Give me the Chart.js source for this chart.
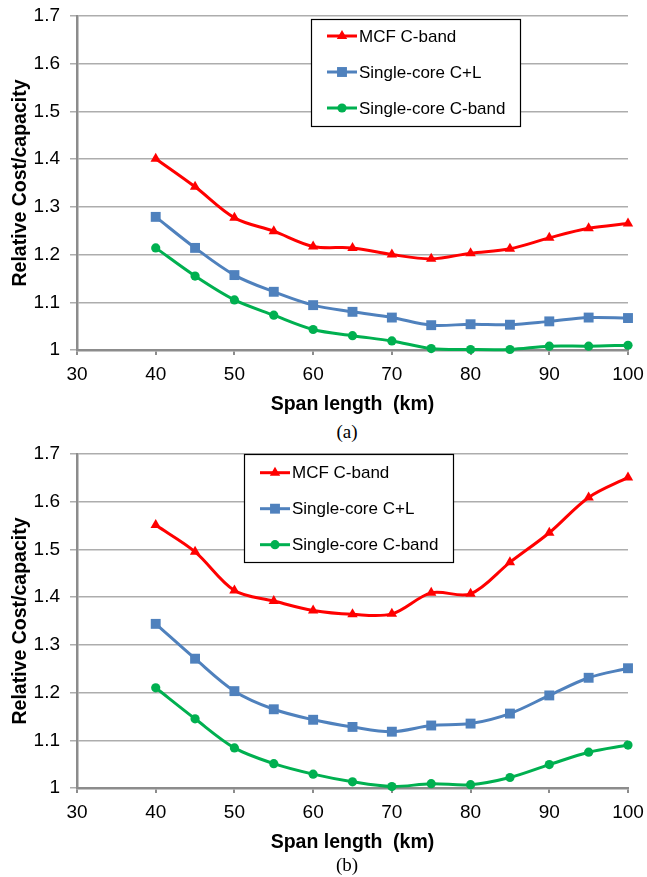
<!DOCTYPE html>
<html>
<head>
<meta charset="utf-8">
<script src="https://cdn.jsdelivr.net/npm/chart.js@4.4.1/dist/chart.umd.min.js"></script>
<style>
  body { margin: 0; background: #fff; }
  #wrap { position: relative; width: 647px; height: 877px; overflow: hidden; }
  canvas { position: absolute; left: 0; }
  .cap { position: absolute; width: 60px; left: 317px; text-align: center;
         font-family: "Liberation Serif", "DejaVu Serif", serif; font-size: 19px; color: #000; }
</style>
</head>
<body>
<div id="wrap">
  <canvas id="chart-a" width="647" height="420" style="top:0px"></canvas>
  <div class="cap" style="top:421px">(a)</div>
  <canvas id="chart-b" width="647" height="420" style="top:438px"></canvas>
  <div class="cap" style="top:854px">(b)</div>
</div>
<script>
// Shared data
const spans = [40, 45, 50, 55, 60, 65, 70, 75, 80, 85, 90, 95, 100];
const seriesNames = ['MCF C-band', 'Single-core C+L', 'Single-core C-band'];

// (a)
const mcf_a = [1.401, 1.342, 1.277, 1.249, 1.217, 1.214, 1.200, 1.191, 1.203, 1.212, 1.235, 1.255, 1.265];
const cl_a = [1.279, 1.214, 1.157, 1.122, 1.094, 1.080, 1.068, 1.052, 1.054, 1.053, 1.060, 1.068, 1.067];
const c_a = [1.214, 1.155, 1.105, 1.073, 1.043, 1.030, 1.019, 1.003, 1.001, 1.001, 1.008, 1.008, 1.010];

// (b)
const mcf_b = [1.551, 1.495, 1.414, 1.392, 1.372, 1.364, 1.365, 1.409, 1.407, 1.473, 1.535, 1.609, 1.651];
const cl_b = [1.344, 1.271, 1.203, 1.165, 1.143, 1.128, 1.118, 1.131, 1.135, 1.156, 1.194, 1.231, 1.251];
const c_b = [1.210, 1.145, 1.084, 1.051, 1.029, 1.013, 1.003, 1.009, 1.007, 1.022, 1.049, 1.075, 1.090];

const xTicks = [30, 40, 50, 60, 70, 80, 90, 100];
const yTicks = [1, 1.1, 1.2, 1.3, 1.4, 1.5, 1.6, 1.7];

const styles = [
  { color: '#ff0000', pointStyle: 'triangle', radius: 6 },
  { color: '#4f81bd', pointStyle: 'rect', radius: 7 },
  { color: '#00b050', pointStyle: 'circle', radius: 4.6 }
];

function makeSets(values) {
  return values.map((vals, i) => ({
    label: seriesNames[i],
    data: spans.map((s, j) => ({ x: s, y: vals[j] })),
    borderColor: styles[i].color,
    backgroundColor: styles[i].color,
    borderWidth: 3,
    pointStyle: styles[i].pointStyle,
    pointRadius: styles[i].radius,
    pointHoverRadius: styles[i].radius,
    pointBorderWidth: 0,
    tension: 0.33,
    clip: false
  }));
}

function drawMarker(ctx, style, x, y, r) {
  ctx.beginPath();
  if (style === 'triangle') {
    ctx.moveTo(x, y - r);
    ctx.lineTo(x + r * 0.866, y + r * 0.5);
    ctx.lineTo(x - r * 0.866, y + r * 0.5);
    ctx.closePath();
  } else if (style === 'rect') {
    const s = r * Math.SQRT1_2;
    ctx.rect(x - s, y - s, 2 * s, 2 * s);
  } else {
    ctx.arc(x, y, r, 0, Math.PI * 2);
  }
  ctx.fill();
}

// boxed legend drawn inside the plot
const boxLegend = {
  id: 'boxLegend',
  afterDatasetsDraw(chart, args, opts) {
    const ctx = chart.ctx;
    ctx.save();
    ctx.fillStyle = '#fff';
    ctx.fillRect(opts.x, opts.y, opts.w, opts.h);
    ctx.strokeStyle = '#000';
    ctx.lineWidth = 1.2;
    ctx.strokeRect(opts.x + 0.5, opts.y + 0.5, opts.w, opts.h);
    ctx.font = '17px "Liberation Sans", Arial, sans-serif';
    ctx.textBaseline = 'middle';
    chart.data.datasets.forEach((ds, i) => {
      const y = opts.y + opts.first + i * 36;
      const x0 = opts.x + 16;
      ctx.strokeStyle = ds.borderColor;
      ctx.fillStyle = ds.borderColor;
      ctx.lineWidth = 3;
      ctx.beginPath();
      ctx.moveTo(x0, y);
      ctx.lineTo(x0 + 30, y);
      ctx.stroke();
      drawMarker(ctx, ds.pointStyle, x0 + 15, y, ds.pointRadius);
      ctx.fillStyle = '#000';
      ctx.fillText(ds.label, opts.x + 48, y + 1);
    });
    ctx.restore();
  }
};

const tickFont = { family: '"Liberation Sans", Arial, sans-serif', size: 19 };
const titleFont = { family: '"Liberation Sans", Arial, sans-serif', size: 19.5, weight: 'bold' };

function makeOptions(legendPos) {
  return {
    responsive: false,
    animation: false,
    layout: { padding: { top: 16, right: 19, left: 4, bottom: 0 } },
    plugins: {
      legend: { display: false },
      tooltip: { enabled: false },
      boxLegend: legendPos
    },
    scales: {
      x: {
        type: 'linear',
        min: 30,
        max: 100,
        afterBuildTicks: (axis) => { axis.ticks = xTicks.map(v => ({ value: v })); },
        afterFit: (axis) => { axis.height = 70; axis.paddingLeft = 0; axis.paddingRight = 0; },
        grid: { drawOnChartArea: false, drawTicks: true, tickLength: 5, color: '#8c8c8c', lineWidth: 2 },
        border: { color: '#8c8c8c', width: 2.5 },
        ticks: { color: '#000', font: tickFont, padding: 8, maxRotation: 0 },
        title: { display: true, text: 'Span length  (km)', color: '#000', font: titleFont, padding: { top: 0 } }
      },
      y: {
        min: 1,
        max: 1.7,
        afterBuildTicks: (axis) => { axis.ticks = yTicks.map(v => ({ value: v })); },
        afterFit: (axis) => { axis.width = 73; axis.paddingTop = 0; axis.paddingBottom = 0; },
        grid: { color: '#adadad', lineWidth: 1.5, tickLength: 7 },
        border: { color: '#8c8c8c', width: 2.5 },
        ticks: { color: '#000', font: tickFont, padding: 10, callback: (v) => String(Math.round(v * 10) / 10) },
        title: { display: true, text: 'Relative Cost/capacity', color: '#000', font: titleFont, padding: { top: 5, bottom: 0 } }
      }
    }
  };
}

var chartA = new Chart(document.getElementById('chart-a'), {
  type: 'line',
  data: { datasets: makeSets([mcf_a, cl_a, c_a]) },
  options: makeOptions({ x: 311, y: 19, w: 209, h: 107, first: 17 }),
  plugins: [boxLegend]
});

var chartB = new Chart(document.getElementById('chart-b'), {
  type: 'line',
  data: { datasets: makeSets([mcf_b, cl_b, c_b]) },
  options: makeOptions({ x: 244, y: 16, w: 209, h: 108, first: 18.7 }),
  plugins: [boxLegend]
});
</script>
</body>
</html>
